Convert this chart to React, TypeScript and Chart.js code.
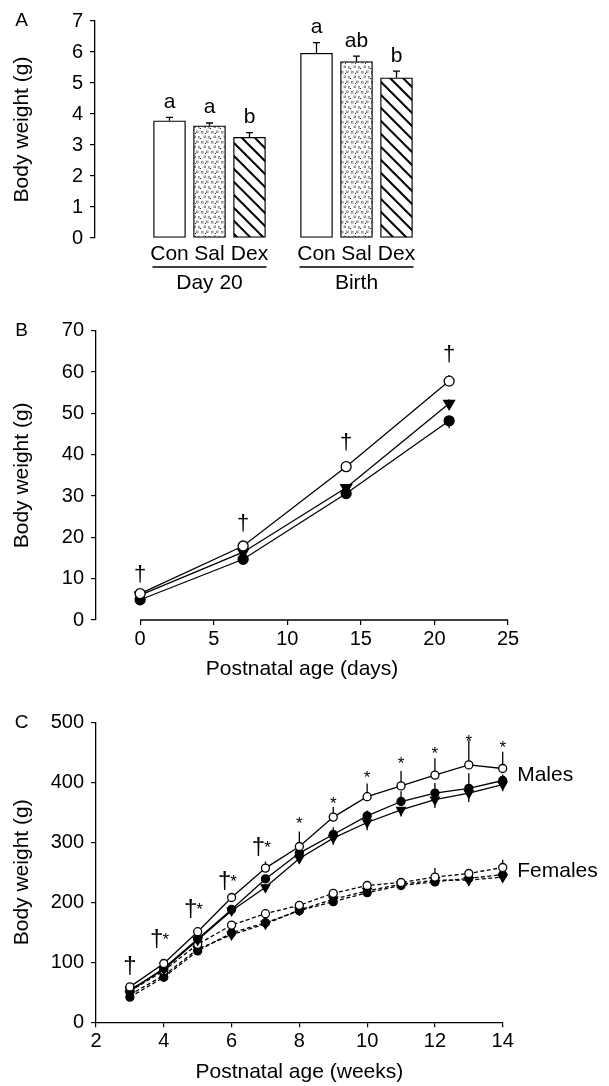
import React, { useEffect, useRef } from 'react';
import { Chart, registerables } from 'chart.js';

Chart.register(...registerables);

const FONT = "'Liberation Sans', Arial, Helvetica, sans-serif";
const PAGE_W = 609;

// ---------------- Panel A (bars) ----------------
const barGroups = ['Day 20', 'Birth'];
const barTreatments = ['Con', 'Sal', 'Dex'];
const day20Means = [3.78, 3.62, 3.25];
const day20Sem = [0.11, 0.09, 0.15];
const day20Letters = ['a', 'a', 'b'];
const birthMeans = [5.96, 5.69, 5.17];
const birthSem = [0.34, 0.18, 0.21];
const birthLetters = ['a', 'ab', 'b'];
const yTicksA = [0, 1, 2, 3, 4, 5, 6, 7];

// ---------------- Panel B (days) ----------------
const daysB = [0, 7, 14, 21];
const conB = [6.4, 17.9, 37.1, 57.8];
const salB = [6.0, 16.4, 32.0, 52.4];
const dexB = [4.9, 14.7, 30.6, 48.2];
const conBSem = [0.3, 0.6, 0.9, 1.5];
const salBSem = [0.3, 0.5, 0.8, 1.0];
const dexBSem = [0.3, 0.6, 1.3, 1.8];
const daggerBY = [11.0, 23.3, 42.9, 64.1];
const xTicksB = [0, 5, 10, 15, 20, 25];
const yTicksB = [0, 10, 20, 30, 40, 50, 60, 70];

// ---------------- Panel C (weeks) ----------------
const weeksC = [3, 4, 5, 6, 7, 8, 9, 10, 11, 12, 13, 14];
const maleCon = [59, 98, 151, 208, 257, 293, 342, 376, 394, 412, 429, 423];
const maleDex = [52, 90, 139, 188, 239, 282, 313, 344, 368, 382, 390, 403];
const maleSal = [54, 88, 137, 186, 225, 273, 307, 333, 354, 371, 382, 396];
const femaleCon = [52, 86, 130, 162, 181, 195, 215, 228, 233, 242, 248, 258];
const femaleDex = [42, 75, 119, 149, 166, 186, 201, 216, 228, 234, 240, 246];
const femaleSal = [46, 78, 122, 146, 164, 187, 205, 219, 230, 237, 237, 242];
const maleConSem = [3, 4, 5, 7, 11, 25, 17, 22, 25, 28, 41, 28];
const maleDexSem = [2, 3, 4, 5, 6, 8, 12, 9, 17, 17, 25, 10];
const maleSalSem = [2, 3, 4, 5, 6, 8, 11, 13, 11, 14, 15, 11];
const femaleConSem = [2, 3, 4, 4, 4, 4, 5, 5, 4, 15, 5, 13];
const femaleDexSem = [2, 3, 3, 4, 4, 4, 5, 6, 5, 6, 13, 11];
const femaleSalSem = [2, 3, 3, 3, 4, 4, 5, 5, 5, 6, 8, 8];
const markTextC = ['†', '†*', '†*', '†*', '†*', '*', '*', '*', '*', '*', '*', '*'];
const markYC = [94, 139, 189, 235, 292, 339, 372, 415, 439, 455, 476, 465];
const sexLabels = ['Males', 'Females'];
const sexLabelY = [412, 252];
const xTicksC = [2, 4, 6, 8, 10, 12, 14];
const yTicksC = [0, 100, 200, 300, 400, 500];

const setTicks = (vals: number[]) => (scale: any) => {
  scale.ticks = vals.map((v) => ({ value: v }));
};

const tickFont = { family: FONT, size: 20 };
const titleFont = { family: FONT, size: 21 };
const DAGGER_B = 22;
const DAGGER_C = 24;
const STAR = 17;

function gridStyle() {
  return { display: true, drawOnChartArea: false, drawTicks: true, tickLength: 5, color: '#000', lineWidth: 1.2 };
}

function yAxis(min: number, max: number, ticks: number[], width: number) {
  return {
    type: 'linear',
    min,
    max,
    afterBuildTicks: setTicks(ticks),
    afterFit: (s: any) => {
      s.width = width;
    },
    grid: gridStyle(),
    border: { display: true, color: '#000', width: 1.3 },
    ticks: { font: tickFont, color: '#000', padding: 7, autoSkip: false },
    title: { display: true, text: 'Body weight (g)', font: titleFont, color: '#000', padding: { top: 10, bottom: 0 } },
  };
}

function xAxis(min: number, max: number, ticks: number[], height: number, title: string, titlePadBottom: number, border: boolean) {
  return {
    type: 'linear',
    min,
    max,
    afterBuildTicks: setTicks(ticks),
    afterFit: (s: any) => {
      s.height = height;
    },
    grid: gridStyle(),
    border: { display: border, color: '#000', width: 1.3 },
    ticks: { font: tickFont, color: '#000', padding: 2, maxRotation: 0, autoSkip: false },
    title: { display: true, text: title, font: titleFont, color: '#000', padding: { top: 0, bottom: titlePadBottom } },
  };
}

function panelLetter(ctx: CanvasRenderingContext2D, chart: any, letter: string) {
  ctx.save();
  ctx.fillStyle = '#000';
  ctx.font = `19px ${FONT}`;
  ctx.textAlign = 'center';
  ctx.textBaseline = 'middle';
  ctx.fillText(letter, 21.5, chart.chartArea.top);
  ctx.restore();
}

function drawErrorBars(chart: any) {
  const ctx = chart.ctx;
  const ys = chart.scales.y;
  ctx.save();
  ctx.strokeStyle = '#000';
  ctx.lineWidth = 1.3;
  chart.data.datasets.forEach((ds: any, i: number) => {
    const meta = chart.getDatasetMeta(i);
    ds.data.forEach((pt: any, j: number) => {
      const el = meta.data[j];
      if (!el) return;
      const y0 = ys.getPixelForValue(pt.y);
      const y1 = ys.getPixelForValue(pt.y + ds.errDir * ds.sem[j]);
      ctx.beginPath();
      ctx.moveTo(el.x, y0);
      ctx.lineTo(el.x, y1);
      ctx.stroke();
    });
  });
  ctx.restore();
}

function lineDataset(xs: number[], ys: number[], sem: number[], errDir: number, kind: string, radius: number, dashed: boolean) {
  const filled = kind !== 'open';
  return {
    type: 'line',
    data: xs.map((x, i) => ({ x, y: ys[i] })),
    sem,
    errDir,
    borderColor: '#000',
    borderWidth: 1.3,
    borderDash: dashed ? [4, 2.5] : [],
    fill: false,
    tension: 0,
    clip: false,
    pointStyle: kind === 'tri' ? 'triangle' : 'circle',
    pointRotation: kind === 'tri' ? 180 : 0,
    pointRadius: kind === 'tri' ? radius * 1.25 : radius,
    pointBackgroundColor: filled ? '#000' : '#fff',
    pointBorderColor: '#000',
    pointBorderWidth: 1.3,
  };
}

function makePatterns() {
  const dotTile = document.createElement('canvas');
  dotTile.width = 10;
  dotTile.height = 10;
  const d = dotTile.getContext('2d') as CanvasRenderingContext2D;
  d.fillStyle = '#fff';
  d.fillRect(0, 0, 10, 10);
  d.strokeStyle = '#888';
  d.lineWidth = 0.8;
  [[1, 1], [6, 0.5], [3.5, 5.5], [8, 6]].forEach(([x, y]) => d.strokeRect(x + 0.5, y + 0.5, 1.6, 1.6));
  d.fillStyle = '#222';
  d.fillRect(5, 3, 1, 1);
  d.fillRect(0, 8, 1, 1);
  const hatchTile = document.createElement('canvas');
  const s = 13;
  hatchTile.width = s;
  hatchTile.height = s;
  const h = hatchTile.getContext('2d') as CanvasRenderingContext2D;
  h.fillStyle = '#fff';
  h.fillRect(0, 0, s, s);
  h.strokeStyle = '#000';
  h.lineWidth = 2;
  for (let k = -1; k <= 1; k++) {
    h.beginPath();
    h.moveTo(k * s - 1, -1);
    h.lineTo(k * s + s + 1, s + 1);
    h.stroke();
  }
  return {
    dots: d.createPattern(dotTile, 'repeat'),
    hatch: h.createPattern(hatchTile, 'repeat'),
  };
}

function buildPanelA(canvas: HTMLCanvasElement) {
  const GROUP_GAP = 0.675;
  const positions = barGroups.flatMap((_, gi) => barTreatments.map((_, ti) => gi * (barTreatments.length + GROUP_GAP) + ti));
  const means = [...day20Means, ...birthMeans];
  const sems = [...day20Sem, ...birthSem];
  const letters = [...day20Letters, ...birthLetters];
  const labels = barGroups.flatMap(() => barTreatments);
  const pats = makePatterns();
  const fills = barGroups.flatMap(() => ['#fff', pats.dots, pats.hatch]);

  const plugin = {
    id: 'panelA',
    afterDatasetsDraw(chart: any) {
      const ctx = chart.ctx;
      const ys = chart.scales.y;
      const meta = chart.getDatasetMeta(0);
      const base = ys.getPixelForValue(0);
      ctx.save();
      ctx.strokeStyle = '#000';
      ctx.fillStyle = '#000';
      ctx.lineWidth = 1.3;
      meta.data.forEach((bar: any, i: number) => {
        const top = ys.getPixelForValue(means[i]);
        const et = ys.getPixelForValue(means[i] + sems[i]);
        ctx.beginPath();
        ctx.moveTo(bar.x, top);
        ctx.lineTo(bar.x, et);
        ctx.moveTo(bar.x - 3.5, et);
        ctx.lineTo(bar.x + 3.5, et);
        ctx.stroke();
        ctx.font = `21px ${FONT}`;
        ctx.textAlign = 'center';
        ctx.textBaseline = 'alphabetic';
        ctx.fillText(letters[i], bar.x, et - 9.5);
        ctx.textBaseline = 'middle';
        ctx.fillText(labels[i], bar.x, base + 16);
      });
      barGroups.forEach((g, gi) => {
        const first = meta.data[gi * barTreatments.length];
        const last = meta.data[gi * barTreatments.length + barTreatments.length - 1];
        const l = first.x - first.width / 2 - 1;
        const r = last.x + last.width / 2 + 1;
        ctx.beginPath();
        ctx.moveTo(l, base + 29);
        ctx.lineTo(r, base + 29);
        ctx.stroke();
        ctx.textBaseline = 'middle';
        ctx.fillText(g, (l + r) / 2, base + 45);
      });
      ctx.restore();
      panelLetter(ctx, chart, 'A');
    },
  };

  return new Chart(canvas, {
    type: 'bar',
    data: {
      datasets: [
        {
          data: positions.map((x, i) => ({ x, y: means[i] })),
          backgroundColor: fills,
          borderColor: '#000',
          borderWidth: 1.3,
          borderSkipped: false,
          barThickness: 32,
        } as any,
      ],
    },
    options: {
      responsive: false,
      animation: false,
      events: [],
      layout: { padding: { left: 0, top: 21, right: 14, bottom: 62 } },
      plugins: { legend: { display: false }, tooltip: { enabled: false } },
      scales: {
        x: { type: 'linear', min: -1.8625, max: 10.6375, offset: false, display: false },
        y: yAxis(0, 7, yTicksA, 95) as any,
      },
    },
    plugins: [plugin],
  } as any);
}

function buildPanelB(canvas: HTMLCanvasElement) {
  const plugin = {
    id: 'panelB',
    beforeDatasetsDraw(chart: any) {
      const ctx = chart.ctx;
      const xs = chart.scales.x;
      const area = chart.chartArea;
      ctx.save();
      ctx.strokeStyle = '#000';
      ctx.lineWidth = 1.3;
      ctx.beginPath();
      ctx.moveTo(xs.getPixelForValue(xTicksB[0]), area.bottom);
      ctx.lineTo(xs.getPixelForValue(xTicksB[xTicksB.length - 1]), area.bottom);
      ctx.stroke();
      ctx.restore();
      drawErrorBars(chart);
    },
    afterDatasetsDraw(chart: any) {
      const ctx = chart.ctx;
      const xs = chart.scales.x;
      const ys = chart.scales.y;
      ctx.save();
      ctx.fillStyle = '#000';
      ctx.font = `${DAGGER_B}px ${FONT}`;
      ctx.textAlign = 'center';
      ctx.textBaseline = 'alphabetic';
      daysB.forEach((d, i) => {
        ctx.fillText('†', xs.getPixelForValue(d), ys.getPixelForValue(daggerBY[i]) + DAGGER_B * 0.28);
      });
      ctx.restore();
      panelLetter(ctx, chart, 'B');
    },
  };
  return new Chart(canvas, {
    type: 'line',
    data: {
      datasets: [
        lineDataset(daysB, conB, conBSem, 1, 'open', 5, false),
        lineDataset(daysB, salB, salBSem, 1, 'tri', 5, false),
        lineDataset(daysB, dexB, dexBSem, -1, 'filled', 5, false),
      ] as any,
    },
    options: {
      responsive: false,
      animation: false,
      events: [],
      layout: { padding: { left: 0, top: 30.7, right: PAGE_W - 508, bottom: 0 } },
      plugins: { legend: { display: false }, tooltip: { enabled: false } },
      scales: {
        x: xAxis(-3, 25, xTicksB, 70, 'Postnatal age (days)', 8.4, false) as any,
        y: yAxis(0, 70, yTicksB, 96) as any,
      },
    },
    plugins: [plugin],
  } as any);
}

function buildPanelC(canvas: HTMLCanvasElement) {
  const plugin = {
    id: 'panelC',
    beforeDatasetsDraw(chart: any) {
      drawErrorBars(chart);
    },
    afterDatasetsDraw(chart: any) {
      const ctx = chart.ctx;
      const xs = chart.scales.x;
      const ys = chart.scales.y;
      ctx.save();
      ctx.fillStyle = '#000';
      ctx.textBaseline = 'alphabetic';
      ctx.textAlign = 'center';
      weeksC.forEach((w, i) => {
        const px = xs.getPixelForValue(w);
        const py = ys.getPixelForValue(markYC[i]);
        const t = markTextC[i];
        const hasDagger = t.includes('†');
        const hasStar = t.includes('*');
        if (hasDagger && hasStar) {
          ctx.font = `${DAGGER_C}px ${FONT}`;
          ctx.fillText('†', px - 7, py + DAGGER_C * 0.28);
          ctx.font = `${STAR}px ${FONT}`;
          ctx.fillText('*', px + 2, py - 4 + STAR * 0.58);
        } else if (hasDagger) {
          ctx.font = `${DAGGER_C}px ${FONT}`;
          ctx.fillText('†', px, py + DAGGER_C * 0.28);
        } else {
          ctx.font = `${STAR}px ${FONT}`;
          ctx.fillText('*', px, py + STAR * 0.58);
        }
      });
      ctx.font = `21px ${FONT}`;
      ctx.textAlign = 'left';
      ctx.textBaseline = 'middle';
      const lastX = xs.getPixelForValue(weeksC[weeksC.length - 1]);
      sexLabels.forEach((s, i) => {
        ctx.fillText(s, lastX + 14.5, ys.getPixelForValue(sexLabelY[i]));
      });
      ctx.restore();
      panelLetter(ctx, chart, 'C');
    },
  };
  return new Chart(canvas, {
    type: 'line',
    data: {
      datasets: [
        lineDataset(weeksC, maleCon, maleConSem, 1, 'open', 4, false),
        lineDataset(weeksC, maleDex, maleDexSem, 1, 'filled', 4, false),
        lineDataset(weeksC, maleSal, maleSalSem, -1, 'tri', 4, false),
        lineDataset(weeksC, femaleCon, femaleConSem, 1, 'open', 4, true),
        lineDataset(weeksC, femaleDex, femaleDexSem, -1, 'filled', 4, true),
        lineDataset(weeksC, femaleSal, femaleSalSem, -1, 'tri', 4, true),
      ] as any,
    },
    options: {
      responsive: false,
      animation: false,
      events: [],
      layout: { padding: { left: 0, top: 32.3, right: PAGE_W - 502.7, bottom: 0 } },
      plugins: { legend: { display: false }, tooltip: { enabled: false } },
      scales: {
        x: xAxis(2, 14, xTicksC, 63.7, 'Postnatal age (weeks)', 1, true) as any,
        y: yAxis(0, 500, yTicksC, 96) as any,
      },
    },
    plugins: [plugin],
  } as any);
}

function ChartCanvas({ top, height, build }: { top: number; height: number; build: (c: HTMLCanvasElement) => Chart }) {
  const ref = useRef<HTMLCanvasElement | null>(null);
  useEffect(() => {
    if (!ref.current) return;
    const chart = build(ref.current);
    return () => chart.destroy();
  }, []);
  return (
    <canvas
      ref={ref}
      width={PAGE_W}
      height={height}
      style={{ position: 'absolute', left: 0, top, width: PAGE_W, height, display: 'block' }}
    />
  );
}

export default function App() {
  return (
    <div style={{ position: 'absolute', left: 0, top: 0, width: PAGE_W, height: 1086, overflow: 'hidden', background: '#fff' }}>
      <ChartCanvas top={0} height={300} build={buildPanelA} />
      <ChartCanvas top={300} height={390} build={buildPanelB} />
      <ChartCanvas top={690} height={396} build={buildPanelC} />
    </div>
  );
}
